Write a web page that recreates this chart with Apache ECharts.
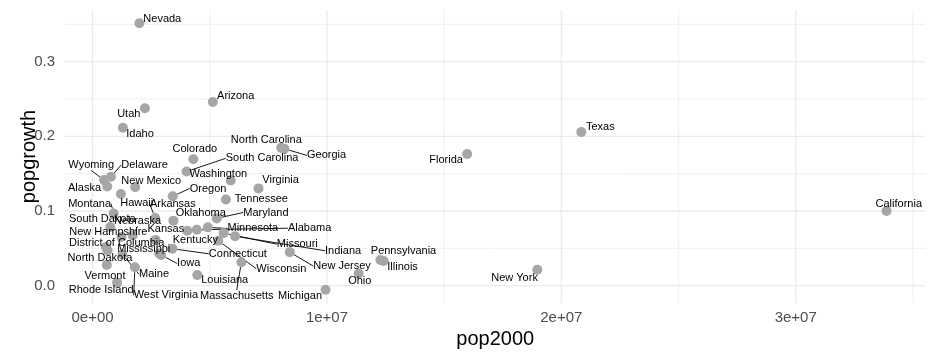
<!DOCTYPE html>
<html>
<head>
<meta charset="utf-8">
<script src="https://cdn.jsdelivr.net/npm/echarts@6/dist/echarts.min.js"></script>
<style>
html,body{margin:0;padding:0;background:#fff;}
#chart{width:936px;height:360px;}
</style>
</head>
<body>
<div id="chart"></div>
<script>
const states = ["Alabama","Alaska","Arizona","Arkansas","California","Colorado","Connecticut","Delaware","District of Columbia","Florida","Georgia","Hawaii","Idaho","Illinois","Indiana","Iowa","Kansas","Kentucky","Louisiana","Maine","Maryland","Massachusetts","Michigan","Minnesota","Mississippi","Missouri","Montana","Nebraska","Nevada","New Hampshire","New Jersey","New Mexico","New York","North Carolina","North Dakota","Ohio","Oklahoma","Oregon","Pennsylvania","Rhode Island","South Carolina","South Dakota","Tennessee","Texas","Utah","Vermont","Virginia","Washington","West Virginia","Wisconsin","Wyoming"];
const pop2000 = [4447100,626932,5130632,2673400,33871648,4301261,3405565,783600,572059,15982378,8186453,1211537,1293953,12419293,6080485,2926324,2688418,4041769,4468976,1274923,5296486,6349097,9938444,4919479,2844658,5595211,902195,1711263,1998257,1235786,8414350,1819046,18976457,8049313,642200,11353140,3450654,3421399,12281054,1048319,4012012,754844,5689283,20851820,2233169,608827,7078515,5894121,1808344,5363675,493782];
const popgrowth = [0.0748,0.1329,0.2459,0.0907,0.0999,0.1692,0.0495,0.1459,0.0519,0.1764,0.1834,0.1228,0.2115,0.0331,0.0663,0.0410,0.0613,0.0736,0.0144,0.0419,0.0901,0.0313,-0.0055,0.0781,0.0431,0.0704,0.0967,0.0672,0.3515,0.0653,0.0449,0.1320,0.0212,0.1846,0.0473,0.0162,0.0871,0.1197,0.0343,0.0041,0.1529,0.0786,0.1154,0.2059,0.2377,0.0278,0.1303,0.1409,0.0247,0.0603,0.1414];

const xMajorTicks = [0, 10000000, 20000000, 30000000];
const xMinorTicks = [5000000, 15000000, 25000000, 35000000];
const xTickLabels = ["0e+00", "1e+07", "2e+07", "3e+07"];
const yMajorTicks = [0, 0.1, 0.2, 0.3];
const yMinorTicks = [0.05, 0.15, 0.25, 0.35];
const yTickLabels = ["0.0", "0.1", "0.2", "0.3"];
const xTitle = "pop2000";
const yTitle = "popgrowth";

// label placement (pixel offsets from the point, repel-style) and which get a segment
const labelOffsets = {
  "Alabama":[112.8,-1.6],"Alaska":[-22.7,2.0],"Arizona":[22.9,-6.6],"Arkansas":[17.6,-13.7],
  "California":[12.3,-6.9],"Colorado":[1.5,-10.6],"Connecticut":[65.5,5.1],"Delaware":[33.6,-11.8],
  "District of Columbia":[10.8,-3.7],"Florida":[-21.1,6.5],"Georgia":[42.1,6.7],"Hawaii":[15.8,8.5],
  "Idaho":[17.2,6.4],"Illinois":[18.9,6.2],"Indiana":[108,14.6],"Iowa":[27.6,8.4],
  "Kansas":[10.3,-10.6],"Kentucky":[8.1,9.1],"Louisiana":[27.4,5.2],"Maine":[31.6,19.9],
  "Maryland":[49.2,-5.9],"Massachusetts":[-4.6,33.2],"Michigan":[-25.5,6],"Minnesota":[45,1.1],
  "Mississippi":[-15.5,-5],"Missouri":[73.6,11.1],"Montana":[-24.1,-9.7],"Nebraska":[4.9,-14.5],
  "Nevada":[22.9,-4.7],"New Hampshire":[-13.2,-5.1],"New Jersey":[52.3,14],"New Mexico":[16.1,-6.6],
  "New York":[-22.8,7.9],"North Carolina":[-14.9,-7.7],"North Dakota":[-7.6,8.1],"Ohio":[1.1,7.2],
  "Oklahoma":[27.3,-8.0],"Oregon":[35.3,-7.8],"Pennsylvania":[23.1,-8.8],"Rhode Island":[-15.9,7.2],
  "South Carolina":[75.5,-13.2],"South Dakota":[-7.9,-8.2],"Tennessee":[35.4,-0.3],"Texas":[19,-5.3],
  "Utah":[-16.1,6.0],"Vermont":[-1.8,10.6],"Virginia":[22.1,-8.1],"Washington":[-12.4,-6.8],
  "West Virginia":[30.9,28.2],"Wisconsin":[63.1,28.1],"Wyoming":[-12.9,-15.1]
};
const withSegment = ["Alabama","Arkansas","Connecticut","Delaware","Georgia","Indiana","Iowa","Maine","Maryland","Massachusetts","Minnesota","Missouri","Montana","Nebraska","New Jersey","Oregon","South Carolina","West Virginia","Wisconsin","Wyoming"];

// ggplot-style 5% expansion
const xLo = Math.min(...pop2000), xHi = Math.max(...pop2000);
const yLo = Math.min(...popgrowth), yHi = Math.max(...popgrowth);
const xMin = xLo - 0.05 * (xHi - xLo), xMax = xHi + 0.05 * (xHi - xLo);
const yMin = yLo - 0.05 * (yHi - yLo), yMax = yHi + 0.05 * (yHi - yLo);

const FONT = '"Liberation Sans", Arial, Helvetica, sans-serif';
const GRID = '#ebebeb';

const vGrid = xMajorTicks.map(v => [v, 1]).concat(xMinorTicks.map(v => [v, 0]));
const hGrid = yMajorTicks.map(v => [1, v]).concat(yMinorTicks.map(v => [0, v]));

const points = states.map((s, i) => ({
  name: s,
  value: [pop2000[i], popgrowth[i]],
  labelLine: { show: withSegment.indexOf(s) >= 0 }
}));

const chart = echarts.init(document.getElementById('chart'), null, { renderer: 'canvas' });
chart.setOption({
  animation: false,
  backgroundColor: '#ffffff',
  textStyle: { fontFamily: FONT },
  grid: { left: 65, right: 10.4, top: 9.9, bottom: 56.9, containLabel: false, outerBoundsMode: 'none' },
  xAxis: {
    type: 'value', min: xMin, max: xMax,
    axisLine: { show: false }, axisTick: { show: false }, splitLine: { show: false },
    axisLabel: {
      customValues: xMajorTicks,
      formatter: v => { const k = xMajorTicks.indexOf(v); return k >= 0 ? xTickLabels[k] : ''; },
      color: '#4d4d4d', fontSize: 15, fontFamily: FONT, margin: 7
    },
    name: xTitle, nameLocation: 'middle', nameGap: 26, nameMoveOverlap: false,
    nameTextStyle: { color: '#000', fontSize: 20, fontFamily: FONT }
  },
  yAxis: {
    type: 'value', min: yMin, max: yMax,
    axisLine: { show: false }, axisTick: { show: false }, splitLine: { show: false },
    axisLabel: {
      customValues: yMajorTicks,
      formatter: v => { const k = yMajorTicks.findIndex(t => Math.abs(t - v) < 1e-9); return k >= 0 ? yTickLabels[k] : ''; },
      color: '#4d4d4d', fontSize: 15, fontFamily: FONT, margin: 10
    },
    name: yTitle, nameLocation: 'middle', nameGap: 26, nameMoveOverlap: false,
    nameTextStyle: { color: '#000', fontSize: 20, fontFamily: FONT }
  },
  series: [
    {
      type: 'custom', silent: true, z: 0,
      data: vGrid,
      encode: { x: 0 },
      renderItem: (params, api) => {
        const v = api.value(0), major = api.value(1);
        const a = api.coord([v, yMin]), b = api.coord([v, yMax]);
        return { type: 'line', shape: { x1: a[0], y1: a[1], x2: b[0], y2: b[1] },
                 style: { stroke: GRID, lineWidth: major ? 1.3 : 0.8 } };
      }
    },
    {
      type: 'custom', silent: true, z: 0,
      data: hGrid,
      encode: { y: 1 },
      renderItem: (params, api) => {
        const major = api.value(0), v = api.value(1);
        const a = api.coord([xMin, v]), b = api.coord([xMax, v]);
        return { type: 'line', shape: { x1: a[0], y1: a[1], x2: b[0], y2: b[1] },
                 style: { stroke: GRID, lineWidth: major ? 1.3 : 0.8 } };
      }
    },
    {
      type: 'scatter', silent: true, z: 2,
      symbol: 'circle', symbolSize: 10,
      itemStyle: { color: '#a6a6a6', opacity: 1 },
      data: points,
      label: {
        show: true, position: 'inside', formatter: p => p.name,
        color: '#000', fontSize: 11, fontFamily: FONT, textBorderWidth: 0
      },
      labelLine: { show: false, length2: 0, smooth: false, minTurnAngle: 0,
                   lineStyle: { color: '#000', width: 0.9 } },
      labelLayout: params => {
        const off = labelOffsets[states[params.dataIndex]] || [0, 0];
        return { dx: off[0], dy: off[1] };
      },
      emphasis: { disabled: true }
    }
  ]
});
</script>
</body>
</html>
